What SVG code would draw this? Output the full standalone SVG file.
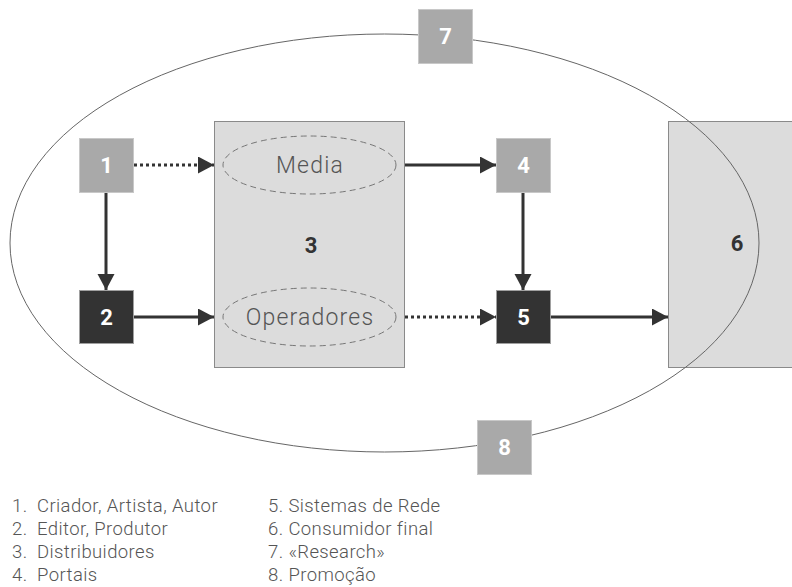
<svg xmlns="http://www.w3.org/2000/svg" width="792" height="587" viewBox="0 0 792 587">
<style>
.bg{fill:#ffffff}
.big{fill:#dcdcdc;stroke:#8a8a8a;stroke-width:1}
.lt{fill:#a9a9a9;stroke:#c8c8c8;stroke-width:1}
.dk{fill:#333333;stroke:#a0a0a0;stroke-width:1}
.num{font-family:Roboto,"DejaVu Sans",sans-serif;font-weight:bold;font-size:22px;text-anchor:middle;dominant-baseline:central}
.w{fill:#ffffff}
.d{fill:#333333}
.sub{fill:none;stroke:#777;stroke-width:1;stroke-dasharray:6 4}
.lbl{font-family:Roboto,"Liberation Sans",sans-serif;font-weight:300;font-size:23px;letter-spacing:1.2px;fill:#555;text-anchor:middle;dominant-baseline:central}
.ring{fill:none;stroke:#666;stroke-width:1}
.con{stroke:#333;stroke-width:3;fill:none}
.dot{stroke-dasharray:3 3}
.leg{font-family:Roboto,"Liberation Sans",sans-serif;font-weight:300;font-size:18.5px;letter-spacing:0.4px;fill:#555}
</style>
<defs>
<marker id="ah" markerUnits="userSpaceOnUse" markerWidth="17" markerHeight="18" refX="16" refY="8.5" orient="auto">
<path d="M0,0 L16,8.5 L0,17 z" fill="#333"/>
</marker>
</defs>
<rect class="bg" x="0" y="0" width="792" height="587"/>
<g id="n3">
<rect class="big" x="214.5" y="121.5" width="190" height="246"/>
<text class="num d" x="311" y="245">3</text>
</g>
<g id="media">
<ellipse class="sub" cx="309.5" cy="165" rx="86.5" ry="29"/>
<text class="lbl" x="310" y="165">Media</text>
</g>
<g id="operadores">
<ellipse class="sub" cx="309.5" cy="317" rx="86.5" ry="29"/>
<text class="lbl" x="310" y="317">Operadores</text>
</g>
<g id="n6">
<rect class="big" x="668.5" y="121.5" width="130" height="246"/>
<text class="num d" x="737" y="243">6</text>
</g>
<g id="scope">
<ellipse class="ring" cx="384.5" cy="243" rx="374.5" ry="209"/>
</g>
<g id="n7">
<rect class="lt" x="418.5" y="9.5" width="54" height="54"/>
<text class="num w" x="445.5" y="36.5">7</text>
</g>
<g id="n8">
<rect class="lt" x="477.5" y="420.5" width="54" height="54"/>
<text class="num w" x="504.5" y="447.5">8</text>
</g>
<g id="n1">
<rect class="lt" x="79.5" y="138.5" width="54" height="54"/>
<text class="num w" x="106.5" y="165.5">1</text>
</g>
<g id="n2">
<rect class="dk" x="79.5" y="290.5" width="54" height="53"/>
<text class="num w" x="106.5" y="317">2</text>
</g>
<g id="n4">
<rect class="lt" x="496.5" y="138.5" width="54" height="54"/>
<text class="num w" x="523.5" y="165.5">4</text>
</g>
<g id="n5">
<rect class="dk" x="496.5" y="290.5" width="54" height="53"/>
<text class="num w" x="523.5" y="317">5</text>
</g>
<g id="connectors">
<line class="con dot" x1="134" y1="165" x2="214" y2="165" marker-end="url(#ah)"/>
<line class="con" x1="106" y1="193" x2="106" y2="290" marker-end="url(#ah)"/>
<line class="con" x1="134" y1="317" x2="214" y2="317" marker-end="url(#ah)"/>
<line class="con" x1="405" y1="165" x2="496" y2="165" marker-end="url(#ah)"/>
<line class="con" x1="523" y1="193" x2="523" y2="290" marker-end="url(#ah)"/>
<line class="con dot" x1="405" y1="317" x2="496" y2="317" marker-end="url(#ah)"/>
<line class="con" x1="551" y1="317" x2="668" y2="317" marker-end="url(#ah)"/>
</g>
<g id="legend" class="leg">
<text x="12" y="512">1.</text><text x="37" y="512">Criador, Artista, Autor</text>
<text x="12" y="535">2.</text><text x="37" y="535">Editor, Produtor</text>
<text x="12" y="558">3.</text><text x="37" y="558">Distribuidores</text>
<text x="12" y="581">4.</text><text x="37" y="581">Portais</text>
<text x="268" y="512">5. Sistemas de Rede</text>
<text x="268" y="535">6. Consumidor final</text>
<text x="268" y="558">7. «Research»</text>
<text x="268" y="581">8. Promoção</text>
</g>
</svg>
